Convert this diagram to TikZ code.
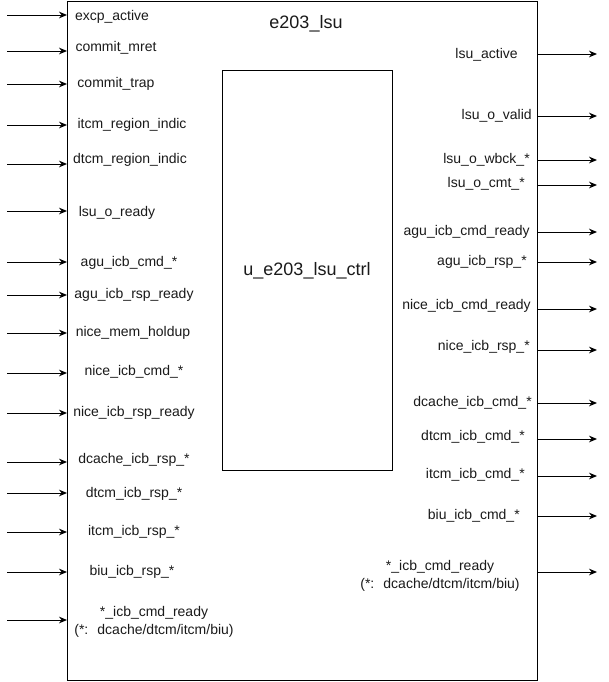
\documentclass[tikz,border=0pt]{standalone}
\usepackage{fontspec}
\setmainfont{Liberation Sans}
\usepackage{tikz}
\usetikzlibrary{arrows.meta,positioning}
\definecolor{LsuBlack}{HTML}{000000}
\definecolor{LsuText}{HTML}{1A1A1A}
\definecolor{LsuWhite}{HTML}{ffffff}
\tikzset{
    % Outer module box
    modulebox/.style={
        draw=LsuBlack,
        fill=LsuWhite,
        line width=0.75pt,
        anchor=north west,
        inner sep=0pt
    },
    % Sub-module box
    subbox/.style={
        modulebox,
        minimum width=127.5pt,
        minimum height=300pt
    },
    % Box title
    titlelabel/.style={
        inner sep=0pt,
        text=LsuText,
        font=\fontsize{13.5}{16}\selectfont
    },
    % Port label
    portlabel/.style={
        inner sep=0pt,
        text=LsuText,
        align=center,
        font=\fontsize{10.5}{14}\selectfont
    },
    % Input label, left side
    inlabel/.style={portlabel},
    % Output label, right side
    outlabel/.style={portlabel, anchor=east},
    % Port arrow (straight lines only)
    portarrow/.style={
        -{Stealth[length=6pt,width=5pt]},
        line width=0.75pt,
        draw=LsuBlack
    }
}

\begin{document}
\begin{tikzpicture}[x=0.75pt, y=-0.75pt]
    \path[use as bounding box, fill=LsuWhite] (0,0) rectangle (608,682);

    % boxes
    \node[modulebox, minimum width=352.5pt, minimum height=509.25pt] (lsu) at (67,1) {};
    \node[titlelabel] (lsutitle) at (306,24) {e203\_lsu};
    \node[subbox] (ctrl) at (222,70) {};
    \node[titlelabel] (ctrltitle) at (307,271) {u\_e203\_lsu\_ctrl};

    % inputs
    \node[inlabel] (l1) at (112,17) {excp\_active};
    \node[inlabel] (l2) at (116,48) {commit\_mret};
    \node[inlabel] (l3) at (116,84) {commit\_trap};
    \node[inlabel] (l4) at (132,125) {itcm\_region\_indic};
    \node[inlabel] (l5) at (130,160) {dtcm\_region\_indic};
    \node[inlabel] (l6) at (117,213) {lsu\_o\_ready};
    \node[inlabel] (l7) at (129,263) {agu\_icb\_cmd\_*};
    \node[inlabel] (l8) at (134,295) {agu\_icb\_rsp\_ready};
    \node[inlabel] (l9) at (133,333) {nice\_mem\_holdup};
    \node[inlabel] (l10) at (134,372) {nice\_icb\_cmd\_*};
    \node[inlabel] (l11) at (134,413) {nice\_icb\_rsp\_ready};
    \node[inlabel] (l12) at (134,460) {dcache\_icb\_rsp\_*};
    \node[inlabel] (l13) at (134,494) {dtcm\_icb\_rsp\_*};
    \node[inlabel] (l14) at (134,532) {itcm\_icb\_rsp\_*};
    \node[inlabel] (l15) at (132,572) {biu\_icb\_rsp\_*};
    \node[inlabel] (l16) at (154,622) {*\_icb\_cmd\_ready\\(*:~ dcache/dtcm/itcm/biu)};

    \coordinate (i1) at (7,15);
    \coordinate (i2) at (7,51);
    \coordinate (i3) at (7,84);
    \coordinate (i4) at (7,125);
    \coordinate (i5) at (7,164);
    \coordinate (i6) at (7,211);
    \coordinate (i7) at (7,262);
    \coordinate (i8) at (7,295);
    \coordinate (i9) at (7,333);
    \coordinate (i10) at (7,373);
    \coordinate (i11) at (7,413);
    \coordinate (i12) at (7,462);
    \coordinate (i13) at (7,493);
    \coordinate (i14) at (7,532);
    \coordinate (i15) at (7,572);
    \coordinate (i16) at (7,620);

    \draw[portarrow] (i1) -- (i1 -| lsu.west);
    \draw[portarrow] (i2) -- (i2 -| lsu.west);
    \draw[portarrow] (i3) -- (i3 -| lsu.west);
    \draw[portarrow] (i4) -- (i4 -| lsu.west);
    \draw[portarrow] (i5) -- (i5 -| lsu.west);
    \draw[portarrow] (i6) -- (i6 -| lsu.west);
    \draw[portarrow] (i7) -- (i7 -| lsu.west);
    \draw[portarrow] (i8) -- (i8 -| lsu.west);
    \draw[portarrow] (i9) -- (i9 -| lsu.west);
    \draw[portarrow] (i10) -- (i10 -| lsu.west);
    \draw[portarrow] (i11) -- (i11 -| lsu.west);
    \draw[portarrow] (i12) -- (i12 -| lsu.west);
    \draw[portarrow] (i13) -- (i13 -| lsu.west);
    \draw[portarrow] (i14) -- (i14 -| lsu.west);
    \draw[portarrow] (i15) -- (i15 -| lsu.west);
    \draw[portarrow] (i16) -- (i16 -| lsu.west);

    % outputs
    \node[outlabel] (r1) at (518,55) {lsu\_active};
    \node[outlabel] (r2) at (532,116) {lsu\_o\_valid};
    \node[outlabel] (r3) at (530,160) {lsu\_o\_wbck\_*};
    \node[outlabel] (r4) at (525,184) {lsu\_o\_cmt\_*};
    \node[outlabel] (r5) at (530,232) {agu\_icb\_cmd\_ready};
    \node[outlabel] (r6) at (527,262) {agu\_icb\_rsp\_*};
    \node[outlabel] (r7) at (531,306) {nice\_icb\_cmd\_ready};
    \node[outlabel] (r8) at (530,347) {nice\_icb\_rsp\_*};
    \node[outlabel] (r9) at (532,403) {dcache\_icb\_cmd\_*};
    \node[outlabel] (r10) at (525,437) {dtcm\_icb\_cmd\_*};
    \node[outlabel] (r11) at (525,475) {itcm\_icb\_cmd\_*};
    \node[outlabel] (r12) at (520,516) {biu\_icb\_cmd\_*};
    \node[portlabel] (r13) at (440,576) {*\_icb\_cmd\_ready\\(*:~ dcache/dtcm/itcm/biu)};

    \coordinate (o1) at (597,54);
    \coordinate (o2) at (597,116);
    \coordinate (o3) at (597,160);
    \coordinate (o4) at (597,185);
    \coordinate (o5) at (597,232);
    \coordinate (o6) at (597,262);
    \coordinate (o7) at (597,309);
    \coordinate (o8) at (597,350);
    \coordinate (o9) at (597,403);
    \coordinate (o10) at (597,439);
    \coordinate (o11) at (597,476);
    \coordinate (o12) at (597,516);
    \coordinate (o13) at (597,572);

    \draw[portarrow] (o1 -| lsu.east) -- (o1);
    \draw[portarrow] (o2 -| lsu.east) -- (o2);
    \draw[portarrow] (o3 -| lsu.east) -- (o3);
    \draw[portarrow] (o4 -| lsu.east) -- (o4);
    \draw[portarrow] (o5 -| lsu.east) -- (o5);
    \draw[portarrow] (o6 -| lsu.east) -- (o6);
    \draw[portarrow] (o7 -| lsu.east) -- (o7);
    \draw[portarrow] (o8 -| lsu.east) -- (o8);
    \draw[portarrow] (o9 -| lsu.east) -- (o9);
    \draw[portarrow] (o10 -| lsu.east) -- (o10);
    \draw[portarrow] (o11 -| lsu.east) -- (o11);
    \draw[portarrow] (o12 -| lsu.east) -- (o12);
    \draw[portarrow] (o13 -| lsu.east) -- (o13);
\end{tikzpicture}
\end{document}
